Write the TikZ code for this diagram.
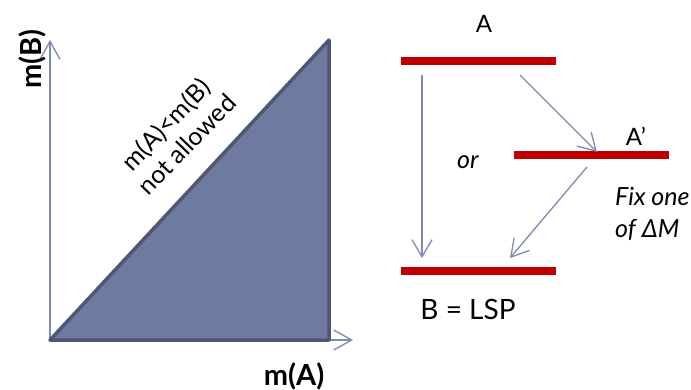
\documentclass[tikz,border=0pt]{standalone}
\usepackage{fontspec}
\setmainfont{Lato}
\usetikzlibrary{arrows.meta}
\definecolor{axisblue}{HTML}{7F8AB5}
\definecolor{trifill}{HTML}{6F7AA0}
\definecolor{triedge}{HTML}{4F5773}
\definecolor{barred}{HTML}{C00000}
\tikzset{
  axis/.style={draw=axisblue, line width=1.3pt, -{Straight Barb[length=18pt,width=20pt,line width=1.3pt]}},
  decay/.style={draw=axisblue, line width=1.3pt, -{Straight Barb[length=17pt,width=20pt,line width=1.3pt]}},
  level/.style={fill=barred, inner sep=0pt, minimum width=155pt, minimum height=8pt},
  lbl/.style={inner sep=0pt, font=\fontsize{24}{28}\selectfont},
  blbl/.style={inner sep=0pt, font=\fontsize{29}{34}\selectfont\bfseries},
  ilbl/.style={inner sep=0pt, font=\fontsize{25}{32}\selectfont\itshape},
}
\begin{document}
\begin{tikzpicture}[x=1pt,y=-1pt]
\useasboundingbox (0,0) rectangle (691,390);
% axes
\coordinate (O) at (50,340);
\coordinate (Ytop) at (50,40);
\coordinate (Xend) at (353,340);
\coordinate (Tt) at (329,40);
\coordinate (Tb) at (329,340);
\fill[trifill] (O) -- (Tt) -- (Tb) -- cycle;
\draw[axis] (O) -- (Ytop);
\draw[axis] (O) -- (Xend);
\draw[triedge, line width=3.5pt, line join=round] (O) -- (Tt) -- (Tb) -- cycle;
\node[blbl, rotate=90] (mB) at (32,59) {m(B)};
\node[blbl] (mA) at (294,376) {m(A)};
\node[inner sep=0pt, font=\fontsize{25}{29}\selectfont, align=center, rotate=46] (na) at (176,134) {m(A)<m(B)\\not allowed};
% levels
\node[level] (barA) at (478.5,61) {};
\node[level] (barAp) at (591.5,155.5) {};
\node[level] (barB) at (478.5,271) {};
\node[lbl] (labA) at (484,24) {A};
\node[lbl] (labAp) at (636,136) {A’};
\node[lbl, font=\fontsize{28}{32}\selectfont] (labB) at (468,309) {B = LSP};
\node[ilbl] (or) at (468,162) {or};
\node[ilbl, anchor=base west] (fix1) at (615,206) {Fix one};
\node[ilbl, anchor=base west] (fix2) at (615,238) {of ΔM};
% decays
\coordinate (s1) at (422,75);
\coordinate (e1) at (422,258);
\coordinate (s2) at (520,75);
\coordinate (e2) at (597,152);
\coordinate (s3) at (587,167);
\coordinate (e3) at (510,258);
\draw[decay] (s1) -- (e1);
\draw[decay] (s2) -- (e2);
\draw[decay] (s3) -- (e3);
\end{tikzpicture}
\end{document}
